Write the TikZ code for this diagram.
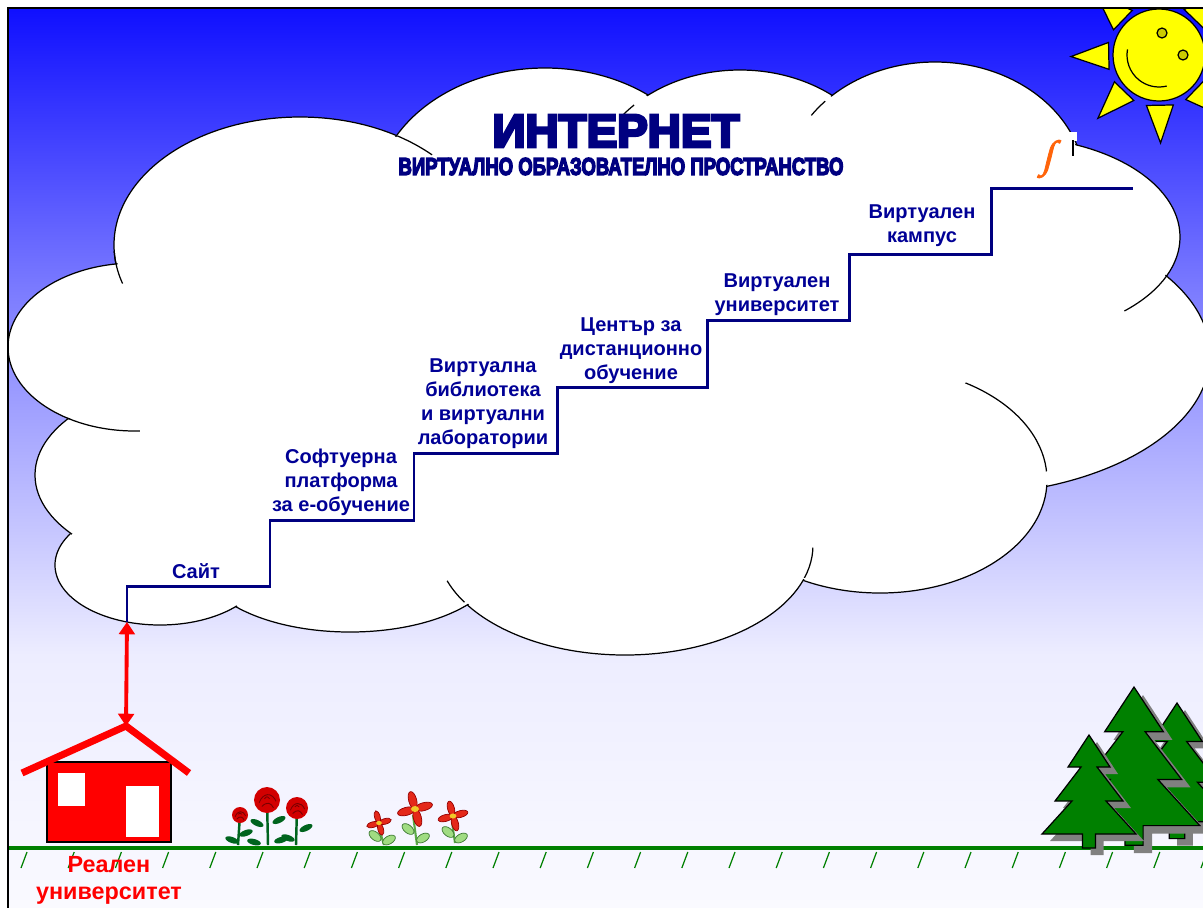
\documentclass[tikz,border=0pt]{standalone}
\usepackage{fontspec}
\setmainfont{Liberation Sans}
\newfontfamily\heavyfont{Liberation Sans}[BoldFeatures={FakeBold=6}]
\newfontfamily\intfont{Liberation Serif}[FakeSlant=0.25, FakeBold=2]
\usepackage{graphicx}
\usetikzlibrary{arrows.meta}

\pgfdeclareverticalshading{sky}{100bp}{rgb(0bp)=(.98,.98,1); rgb(25bp)=(.98,.98,1); rgb(39bp)=(.93,.93,1); rgb(59bp)=(.49,.49,1); rgb(75bp)=(.06,.06,1); rgb(100bp)=(.06,.06,1)}

% cloud lobes: centre x/centre y/x radius/y radius
\newcommand\cloudlobes{300/245/186/128, 545/200/170/132, 740/190/150/120, 935/185/150/123, 1010/237/170/100, 960/355/250/140, 880/480/167/113, 625/545/188/110, 350/560/150/72, 160/565/105/60, 205/475/170/95, 135/347/127/84}

\tikzset{
  lobe/.style={fill=white, draw=black, line width=0.7pt},
  lobeline/.style={draw=black, line width=0.7pt},
  stair/.style={draw={rgb,255:red,0;green,0;blue,128}, line width=1.7pt},
  steplabel/.style={font=\fontsize{11.4}{13.6}\selectfont\bfseries, text={rgb,255:red,0;green,0;blue,150}, align=center, anchor=south, inner sep=0pt, text depth=0pt},
  sunpart/.style={fill={rgb,255:red,255;green,255;blue,0}, draw=black, line width=0.7pt},
  redarrow/.style={draw={rgb,255:red,255;green,0;blue,0}, line width=2.2pt, {Triangle[width=9pt,length=7pt]}-{Triangle[width=9pt,length=7pt]}},
  ground/.style={draw={rgb,255:red,0;green,128;blue,0}, line width=2.8pt},
  hatch/.style={draw={rgb,255:red,0;green,128;blue,0}, line width=0.7pt},
  treeshade/.style={fill={rgb,255:red,128;green,128;blue,128}},
  treebody/.style={fill={rgb,255:red,0;green,128;blue,0}, draw=black, line width=0.7pt},
  stem/.style={draw={rgb,255:red,0;green,100;blue,30}, line width=1.4pt},
  leaf/.style={fill={rgb,255:red,0;green,100;blue,30}},
  lightstem/.style={draw={rgb,255:red,90;green,170;blue,70}, line width=1.2pt},
  lightleaf/.style={fill={rgb,255:red,160;green,220;blue,130}, draw={rgb,255:red,60;green,120;blue,50}, line width=0.4pt},
  curl/.style={draw={rgb,255:red,120;green,0;blue,0}, line width=0.5pt},
  firtree/.pic={\path[pic actions] (0,0) -- (21,32) -- (8,32) -- (34,66) -- (17,66) -- (47,99) -- (6.5,99) -- (6.5,113) -- (-6.5,113) -- (-6.5,99) -- (-47,99) -- (-17,66) -- (-34,66) -- (-8,32) -- (-21,32) -- cycle;},
  rose/.pic={\fill[fill={rgb,255:red,210;green,0;blue,0}] (0,0) circle (10);
    \draw[curl] (-6,2) .. controls (-3,-6) and (4,-6) .. (7,1);
    \draw[curl] (-4,5) .. controls (0,1) and (3,2) .. (5,6);
    \draw[curl] (-2,-1) .. controls (0,-3) .. (2,-1);},
  blossom/.pic={\foreach \b in {15,105,195,285}
      \filldraw[fill={rgb,255:red,228;green,40;blue,25}, draw={rgb,255:red,150;green,0;blue,0}, line width=0.4pt, rotate=\b] (9,0) ellipse [x radius=9, y radius=4];
    \fill[fill={rgb,255:red,240;green,200;blue,40}] (0,0) ellipse [x radius=4, y radius=3];},
}

\begin{document}
\begin{tikzpicture}[x=0.02cm, y=-0.02cm]%
\path[use as bounding box] (0,0) rectangle (1203,907);%
\clip (0,0) rectangle (1203,907);%
\fill[white] (0,0) rectangle (1203,907);%
\shade[shading=sky] (8,8) rectangle (1203,907);%
% sun
\begin{scope}%
\clip (8,8) rectangle (1203,907);%
\begin{scope}[shift={(1159,55)}]%
\foreach \a in {-1,44,...,314}
  \filldraw[sunpart] (\a:88) -- ({\a+15}:52) -- ({\a-15}:52) -- cycle;%
\filldraw[sunpart] (0,0) circle (46);%
\filldraw[sunpart, fill={rgb,255:red,204;green,204;blue,0}] (3,-22) circle (5) (24,0) circle (5);%
\draw[line width=0.7pt] (190:32) arc[start angle=190, end angle=76, radius=32];%
\end{scope}%
\end{scope}%
% cloud
\foreach \cx/\cy/\rx/\ry in \cloudlobes
  \filldraw[lobe] (\cx,\cy) ellipse [x radius=\rx, y radius=\ry];%
\foreach \cx/\cy/\rx/\ry in \cloudlobes
  \fill[white] (\cx,\cy) ellipse [x radius=\rx-1.6, y radius=\ry-1.6];%
\fill[white] (620,360) ellipse [x radius=430, y radius=200];%
\foreach \cx/\cy/\rx/\ry/\sx/\sy/\sr in {300/245/186/128/119/267/17, 300/245/186/128/416/143/20, 135/347/127/84/103/428/37, 625/545/188/110/455/592/14, 625/545/188/110/806/562/16, 880/480/167/113/1005/428/60, 1010/237/170/100/1148/296/28, 740/190/150/120/628/110/8, 935/185/150/123/818/108/10}{%
  \begin{scope}
    \clip (\sx,\sy) circle (\sr);
    \draw[lobeline] (\cx,\cy) ellipse [x radius=\rx, y radius=\ry];
  \end{scope}}%
% heading
\node[inner sep=0pt, text={rgb,255:red,0;green,0;blue,128}] (title) at (616,131) {\resizebox{4.94cm}{0.64cm}{\heavyfont\bfseries ИНТЕРНЕТ}};%
\node[inner sep=0pt, text={rgb,255:red,0;green,0;blue,128}] (subtitle) at (621,166.5) {\resizebox{8.9cm}{0.34cm}{\heavyfont\bfseries ВИРТУАЛНО ОБРАЗОВАТЕЛНО ПРОСТРАНСТВО}};%
\node[text={rgb,255:red,255;green,100;blue,10}, inner sep=0pt] (logo) at (1047,159) {\resizebox*{!}{0.76cm}{\intfont ∫}};%
\fill[white] (1067,132) rectangle (1077,141);%
\draw[line width=0.8pt] (1073,140) -- (1073,156);%
% stairs
\coordinate (site) at (127,622);%
\draw[stair] (site) |- (270,586) |- (414,520) |- (557,453) |- (707,387) |- (849,320) |- (991,254) |- (1133,188);%
\node[steplabel] (s1) at (196,579) {Сайт};%
\node[steplabel] (s2) at (341,512) {Софтуерна\\платформа\\за е-обучение};%
\node[steplabel] (s3) at (483,445) {Виртуална\\библиотека\\и виртуални\\лаборатории};%
\node[steplabel] (s4) at (631,380) {Център за\\дистанционно\\обучение};%
\node[steplabel] (s5) at (777,312) {Виртуален\\университет};%
\node[steplabel] (s6) at (922,243) {Виртуален\\кампус};%
% ground
\draw[ground] (8,848) -- (1203,848);%
\foreach \i in {0,...,25}
  \draw[hatch] ({27+47.2*\i},852) -- ++(-6,16);%
% house
\coordinate (roof) at (126,726);%
\filldraw[fill={rgb,255:red,255;green,0;blue,0}, draw=black, line width=0.6pt] (47,762) rectangle (171,842);%
\fill[white] (58,773) rectangle (85,806);%
\fill[white] (126,786) rectangle (159,837);%
\draw[draw={rgb,255:red,255;green,0;blue,0}, line width=4pt] (22,773) -- (roof) -- (189,773);%
\draw[redarrow] (site) -- (roof);%
\node[font=\fontsize{13.3}{15.3}\selectfont\bfseries, text={rgb,255:red,255;green,0;blue,0}, align=center, anchor=south, inner sep=0pt, text depth=0pt] (real) at (109,900) {Реален\\университет};%
% roses
\draw[stem] (240,815) -- (238,845);%
\draw[stem] (267,800) -- (268,845);%
\draw[stem] (297,808) -- (296,845);%
\foreach \lx/\ly/\lr in {246/833/20, 232/840/-20, 257/823/-25, 279/820/25, 254/842/-15, 281/840/15, 306/828/25, 288/838/-20}
  \fill[leaf, rotate around={\lr:(\lx,\ly)}] (\lx,\ly) ellipse [x radius=7, y radius=3];%
\pic[scale=0.8] at (240,815) {rose};%
\pic[scale=1.3] at (267,800) {rose};%
\pic[scale=1.1] at (297,808) {rose};%
% flowers
\draw[lightstem] (379,828) -- (384,845);%
\draw[lightstem] (413,815) -- (417,845);%
\draw[lightstem] (452,822) -- (455,843);%
\foreach \lx/\ly/\lr in {375/836/-40, 389/840/30, 408/829/-40, 423/838/30, 448/832/-40, 461/838/30}
  \filldraw[lightleaf, rotate around={\lr:(\lx,\ly)}] (\lx,\ly) ellipse [x radius=7, y radius=4];%
\pic[scale=0.7] at (379,823) {blossom};%
\pic[scale=1] at (415,809) {blossom};%
\pic[scale=0.85] at (453,816) {blossom};%
% trees
\pic[scale=1.2, treeshade] at (1185,710) {firtree};%
\pic[scale=1.2, treebody] at (1177,703) {firtree};%
\pic[scale=1.4, treeshade] at (1143,695) {firtree};%
\pic[scale=1.4, treebody] at (1134,687) {firtree};%
\pic[treeshade] at (1097,742) {firtree};%
\pic[treebody] at (1089,735) {firtree};%
% frame
\draw[line width=1.7pt] (8,910) -- (8,8) -- (1206,8);%
\end{tikzpicture}
\end{document}
